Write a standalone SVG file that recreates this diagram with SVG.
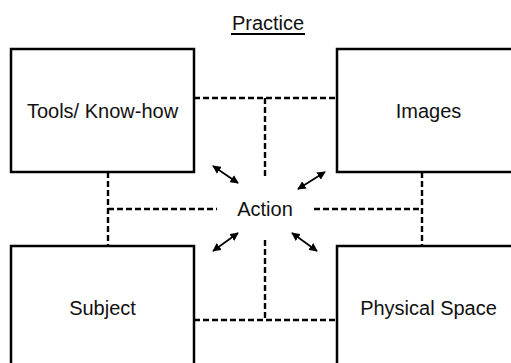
<svg xmlns="http://www.w3.org/2000/svg" width="511" height="363" viewBox="0 0 511 363">
  <style>
    .box { fill: #fff; stroke: #000; stroke-width: 2.5; }
    .lbl { font-family: "Liberation Sans", Arial, sans-serif; font-size: 20px; fill: #111; text-anchor: middle; }
    .dash { fill: none; stroke: #000; stroke-width: 2.4; stroke-dasharray: 6 3; }
    .arr { fill: none; stroke: #000; stroke-width: 1.7; marker-start: url(#head); marker-end: url(#head); }
  </style>
  <defs>
    <marker id="head" viewBox="0 0 10 10" refX="9" refY="5" markerWidth="5" markerHeight="5" orient="auto-start-reverse" markerUnits="strokeWidth">
      <path d="M0,0 L10,5 L0,10 Z" fill="#000"/>
    </marker>
  </defs>
  <rect width="511" height="363" fill="#fff"/>

  <g id="title">
    <text class="lbl" x="268" y="30">Practice</text>
    <line x1="231" y1="34" x2="305" y2="34" stroke="#000" stroke-width="1.8"/>
  </g>

  <g id="connectors">
    <!-- dashed links between the four quadrants -->
    <polyline class="dash" points="194,98 337,98"/>
    <polyline class="dash" points="265,98 265,177"/>
    <polyline class="dash" points="108,172 108,246"/>
    <polyline class="dash" points="108,209 217,209"/>
    <polyline class="dash" points="422,172 422,246"/>
    <polyline class="dash" points="314,209 422,209"/>
    <polyline class="dash" points="194,320 337,320"/>
    <polyline class="dash" points="265,240 265,320"/>
    <!-- two-way arrows around Action -->
    <line class="arr" x1="213" y1="166" x2="238" y2="183"/>
    <line class="arr" x1="298" y1="189" x2="325" y2="172"/>
    <line class="arr" x1="213" y1="251" x2="238" y2="233"/>
    <line class="arr" x1="292" y1="233" x2="317" y2="251"/>
  </g>

  <g id="tools">
    <rect class="box" x="11" y="49" width="183" height="123"/>
    <text class="lbl" x="102.5" y="118">Tools/ Know-how</text>
  </g>
  <g id="images">
    <rect class="box" x="337" y="49" width="183" height="123"/>
    <text class="lbl" x="428.5" y="118">Images</text>
  </g>
  <g id="subject">
    <rect class="box" x="11" y="246" width="183" height="123"/>
    <text class="lbl" x="102.5" y="315">Subject</text>
  </g>
  <g id="physical-space">
    <rect class="box" x="337" y="246" width="183" height="123"/>
    <text class="lbl" x="428.5" y="315">Physical Space</text>
  </g>
  <g id="action">
    <text class="lbl" x="265" y="216">Action</text>
  </g>
</svg>
